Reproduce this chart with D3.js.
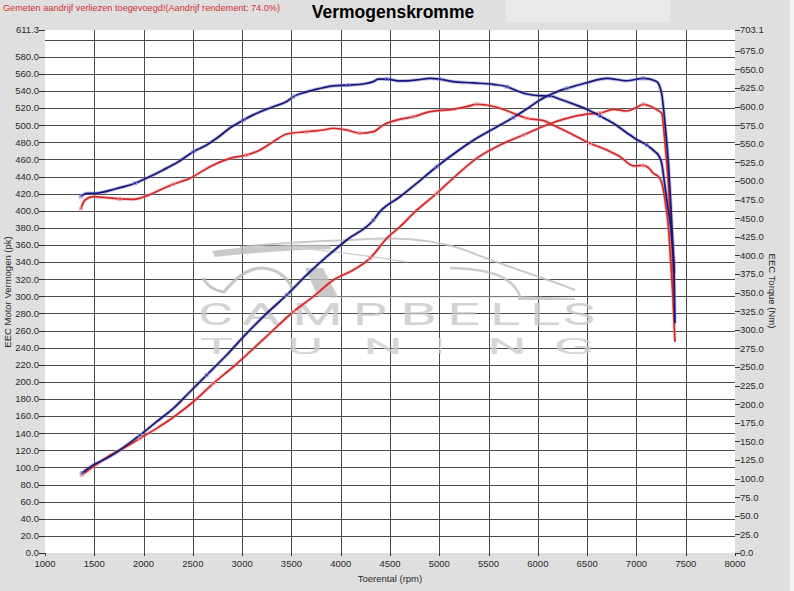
<!DOCTYPE html>
<html><head><meta charset="utf-8">
<script src="https://cdn.jsdelivr.net/npm/d3@7"></script>
<style>
body{margin:0;background:#dfdfdf;}
svg{display:block;font-family:"Liberation Sans",Arial,sans-serif;}
</style>
</head><body>
<svg id="chart" width="794" height="591"></svg>
<script>
// ---------- DATA ----------
const headerNote = "Gemeten aandrijf verliezen toegevoegd!(Aandrijf rendement: 74.0%)";
const chartTitle = "Vermogenskromme";
const xTitle = "Toerental (rpm)";
const yLeftTitle = "EEC Motor Vermogen (pk)";
const yRightTitle = "EEC Torque (Nm)";

const rpmTicks = [1000,1500,2000,2500,3000,3500,4000,4500,5000,5500,6000,6500,7000,7500,8000];
const powerTicks = [0,20,40,60,80,100,120,140,160,180,200,220,240,260,280,300,320,340,360,380,400,420,440,460,480,500,520,540,560,580,611.3];
const powerGrid = [20,40,60,80,100,120,140,160,180,200,220,240,260,280,300,320,340,360,380,400,420,440,460,480,500,520,540,560,580,600];
const torqueTicks = [0,25,50,75,100,125,150,175,200,225,250,275,300,325,350,375,400,425,450,475,500,525,550,575,600,625,650,675,703.1];
const powerMax = 611.3;
const torqueMax = 703.1;

// [rpm, pk]
const powerBlue = [[1372,93.2],[1490,102.8],[1626,110.7],[1761,120.4],[1964,137.9],[2133,153.5],[2302,169],[2471,188.5],[2640,208],[2843,231.4],[3046,256.8],[3249,280],[3452,301.5],[3655,325],[3858,346.3],[4061,365.8],[4331,389],[4398,399],[4601,416.4],[4770,432],[4973,451.5],[5176,469],[5379,484.7],[5582,498],[5751,509],[5920,521.6],[6021,529.5],[6156,537.3],[6292,543],[6496,549.7],[6699,554.8],[6901,552],[7070,554.8],[7188,552],[7222,549],[7245,542],[7256,537],[7290,502],[7324,456],[7348,409],[7368,362],[7384,327]];
const powerRed = [[1372,91.2],[1490,100.9],[1626,111.8],[1794,122.4],[1964,134],[2133,145.7],[2302,158.6],[2505,176.8],[2708,198.3],[2911,217.7],[3080,235.3],[3316,260.6],[3519,282],[3722,299.6],[3925,319],[4128,330.8],[4297,344.4],[4467,367.8],[4602,381.4],[4737,397],[4973,420.4],[5176,441.8],[5379,461.3],[5616,476.9],[5852,488.5],[6089,500.2],[6292,508],[6496,513],[6631,514],[6766,518.6],[6901,516.6],[7003,521],[7070,524.4],[7137,522.4],[7222,517],[7256,514],[7290,478.8],[7324,432],[7347,389],[7368,342.5],[7382,299.6]];
// [rpm, Nm]
const torqueBlue = [[1362,479],[1423,483.6],[1507,483.6],[1727,490],[1913,497],[2015,503],[2200,515],[2353,526],[2505,539.5],[2640,548.5],[2742,557.5],[2894,573],[3012,582],[3113,589],[3316,600],[3452,607],[3519,613.5],[3655,620],[3773,624],[3925,628],[4077,629],[4229,630.5],[4331,633.7],[4382,637],[4467,637],[4602,634.6],[4770,636],[4905,638],[5006,637],[5141,633.7],[5344,632],[5547,630],[5684,627],[5785,621.5],[5887,617],[6005,614.8],[6123,614.4],[6225,610],[6360,603.6],[6496,596.5],[6631,587.5],[6766,577.7],[6901,565],[7003,556],[7104,548.5],[7188,539.5],[7222,535],[7256,524],[7290,492.5],[7324,461],[7358,425],[7382,376],[7391,309]];
const torqueRed = [[1362,462],[1406,474.6],[1490,479],[1626,477.7],[1761,476],[1896,475.5],[2032,480],[2167,488],[2302,495.7],[2471,503.8],[2674,519.4],[2877,530.6],[3046,535],[3181,541.8],[3316,553],[3452,563.3],[3655,566.4],[3823,568.7],[3925,571],[4061,568.7],[4196,564.3],[4331,566.4],[4432,575.4],[4567,582],[4737,586.6],[4905,593.3],[5142,596.5],[5277,600],[5379,603.2],[5480,602.3],[5616,597.9],[5751,591.2],[5887,584.4],[6056,581.2],[6191,573],[6360,562],[6529,550.8],[6699,541.8],[6834,532.8],[6969,520.5],[7070,521],[7137,515.9],[7171,510.5],[7222,506],[7256,498],[7290,474.6],[7324,438.7],[7347,394],[7368,349],[7391,284]];

// watermark letters (decoration)
const wmWord1 = "CAMPBELLS";
const wmWord2 = "TUNING";

// ---------- LAYOUT ----------
const W = 794, H = 591;
const L = 45, R = 735, T = 30, B = 553;
const svg = d3.select("#chart");
const x = d3.scaleLinear().domain([1000, 8000]).range([L, R]);
const yP = d3.scaleLinear().domain([0, powerMax]).range([B, T]);
const yT = d3.scaleLinear().domain([0, torqueMax]).range([B, T]);

svg.append("rect").attr("width", W).attr("height", H).attr("fill", "#dfdfdf");
svg.append("rect").attr("x", 506).attr("y", 0).attr("width", 164).attr("height", 22).attr("fill", "#e9e9e9");
svg.append("rect").attr("x", 790).attr("y", 0).attr("width", 4).attr("height", H).attr("fill", "#f3f3f3");
svg.append("rect").attr("x", L).attr("y", T).attr("width", R - L).attr("height", B - T).attr("fill", "#ffffff");

// grid
const grid = svg.append("g").attr("stroke", "#4a4a4a").attr("stroke-width", 1).attr("shape-rendering", "crispEdges");
grid.selectAll("line.v").data(rpmTicks.filter(d => d > 1000 && d < 8000)).join("line")
  .attr("x1", d => Math.round(x(d)) + 0.5).attr("x2", d => Math.round(x(d)) + 0.5)
  .attr("y1", T).attr("y2", B);
grid.selectAll("line.h").data(powerGrid).join("line")
  .attr("x1", L).attr("x2", R)
  .attr("y1", d => Math.round(yP(d)) + 0.5).attr("y2", d => Math.round(yP(d)) + 0.5);

// watermark
const wm = svg.append("g").attr("opacity", 0.8);
wm.append("path").attr("d", "M240,247 C280,243 320,241 350,240 C400,236 440,240 470,252 C510,268 545,278 575,290")
  .attr("fill", "none").attr("stroke", "#bdbdbd").attr("stroke-width", 2);
wm.append("path").attr("d", "M212,251 C250,246 290,244 330,245 L331,249 C290,250 250,253 215,257 Z")
  .attr("fill", "#bcbcbc");
wm.append("path").attr("d", "M300,248 C340,252 370,256 407,262").attr("fill", "none").attr("stroke", "#cacaca").attr("stroke-width", 1.5);
wm.append("path").attr("d", "M450,268 C490,269 512,276 520,296").attr("fill", "none").attr("stroke", "#bdbdbd").attr("stroke-width", 2.5);
wm.append("path").attr("d", "M518,296 L575,298 L575,300 L518,300 Z").attr("fill", "#c0c0c0");
wm.append("path").attr("d", "M203,278 C207,285 212,290 224,292 C232,282 246,268 262,268 C278,269 288,278 293,290")
  .attr("fill", "none").attr("stroke", "#b8b8b8").attr("stroke-width", 3);
wm.append("path").attr("d", "M305,268 L323,268 L338,297 L318,297 Z").attr("fill", "#bdbdbd");
wm.append("path").attr("d", "M330,297 L523,297").attr("stroke", "#cacaca").attr("stroke-width", 1.2);
const w1pos = [[198,35],[241,40],[292,51],[353,34],[400,37],[447,33],[490,30],[530,30],[563,32]];
const w2pos = [[200,33],[287,36],[363,40],[437,6],[487,40],[553,42]];
wm.selectAll("text.w1").data(wmWord1.split("")).join("text")
  .attr("x", (d, i) => w1pos[i][0]).attr("y", 325).attr("textLength", (d, i) => w1pos[i][1])
  .attr("lengthAdjust", "spacingAndGlyphs")
  .attr("font-family", "Roboto, 'Open Sans', sans-serif").attr("font-weight", 400).attr("font-size", 31)
  .attr("fill", "#c9c9c9").text(d => d);
wm.selectAll("text.w2").data(wmWord2.split("")).join("text")
  .attr("x", (d, i) => w2pos[i][0]).attr("y", 354).attr("textLength", (d, i) => w2pos[i][1])
  .attr("lengthAdjust", "spacingAndGlyphs")
  .attr("font-family", "Roboto, 'Open Sans', sans-serif").attr("font-weight", 400).attr("font-size", 22)
  .attr("fill", "#cdcdcd").text(d => d);

// curves
const lineP = d3.line().x(d => x(d[0])).y(d => yP(d[1])).curve(d3.curveMonotoneX);
const lineT = d3.line().x(d => x(d[0])).y(d => yT(d[1])).curve(d3.curveMonotoneX);
const series = [
  {data: torqueRed, gen: lineT, y: yT, c: "#cf2a2a", halo: "#f09a9a", mk: "#f2a0a0"},
  {data: powerRed, gen: lineP, y: yP, c: "#cf2a2a", halo: "#f09a9a", mk: "#f2a0a0"},
  {data: torqueBlue, gen: lineT, y: yT, c: "#17177a", halo: "#7a7ac0", mk: "#8c8cd8"},
  {data: powerBlue, gen: lineP, y: yP, c: "#17177a", halo: "#7a7ac0", mk: "#8c8cd8"}
];
const curves = svg.append("g");
series.forEach(s => {
  curves.append("path").attr("d", s.gen(s.data)).attr("fill", "none")
    .attr("stroke", s.halo).attr("stroke-width", 3.6).attr("stroke-opacity", 0.45).attr("stroke-linejoin", "round");
});
series.forEach(s => {
  curves.append("path").attr("d", s.gen(s.data)).attr("fill", "none")
    .attr("stroke", s.c).attr("stroke-width", 1.7).attr("stroke-linejoin", "round");
  curves.selectAll(null).data(s.data.filter((d, i) => i % 4 === 0 && d[0] < 7200)).join("rect")
    .attr("x", d => x(d[0]) - 1.5).attr("y", d => s.y(d[1]) - 1.5).attr("width", 3).attr("height", 3)
    .attr("fill", "none").attr("stroke", s.mk).attr("stroke-width", 0.8);
});

// axes
const fs = 9.5, tc = "#2a2a2a";
const ax = svg.append("g").attr("font-size", fs).attr("fill", tc);
const tk = svg.append("g").attr("stroke", "#333").attr("stroke-width", 1).attr("shape-rendering", "crispEdges");
tk.selectAll("line.l").data(powerTicks).join("line")
  .attr("x1", L - 6).attr("x2", L).attr("y1", d => Math.round(yP(d)) + 0.5).attr("y2", d => Math.round(yP(d)) + 0.5);
ax.selectAll("text.l").data(powerTicks).join("text")
  .attr("x", L - 6).attr("y", d => yP(d) + 3.3).attr("text-anchor", "end").text(d => d.toFixed(1));
tk.selectAll("line.r").data(torqueTicks).join("line")
  .attr("x1", R).attr("x2", R + 5).attr("y1", d => Math.round(yT(d)) + 0.5).attr("y2", d => Math.round(yT(d)) + 0.5);
ax.selectAll("text.r").data(torqueTicks).join("text")
  .attr("x", R + 5).attr("y", d => yT(d) + 3.3).attr("text-anchor", "start").text(d => d.toFixed(1));
tk.selectAll("line.b").data(rpmTicks).join("line")
  .attr("x1", d => Math.round(x(d)) + 0.5).attr("x2", d => Math.round(x(d)) + 0.5).attr("y1", B).attr("y2", B + 3);
ax.selectAll("text.b").data(rpmTicks).join("text")
  .attr("x", d => x(d)).attr("y", B + 14).attr("text-anchor", "middle").text(d => d);

// titles
svg.append("text").attr("x", 3).attr("y", 10.5).attr("font-size", 9.6).attr("fill", "#d03030")
  .attr("textLength", 277).attr("lengthAdjust", "spacingAndGlyphs").text(headerNote);
svg.append("text").attr("x", 393).attr("y", 18).attr("text-anchor", "middle").attr("font-size", 17.5)
  .attr("font-weight", "bold").attr("fill", "#000").text(chartTitle);
svg.append("text").attr("x", 390).attr("y", 582).attr("text-anchor", "middle").attr("font-size", fs)
  .attr("fill", tc).text(xTitle);
svg.append("text").attr("transform", "translate(11,292) rotate(-90)").attr("text-anchor", "middle")
  .attr("font-size", fs).attr("fill", tc).text(yLeftTitle);
svg.append("text").attr("transform", "translate(769,291) rotate(90)").attr("text-anchor", "middle")
  .attr("font-size", fs).attr("fill", tc).text(yRightTitle);
</script>
</body></html>
